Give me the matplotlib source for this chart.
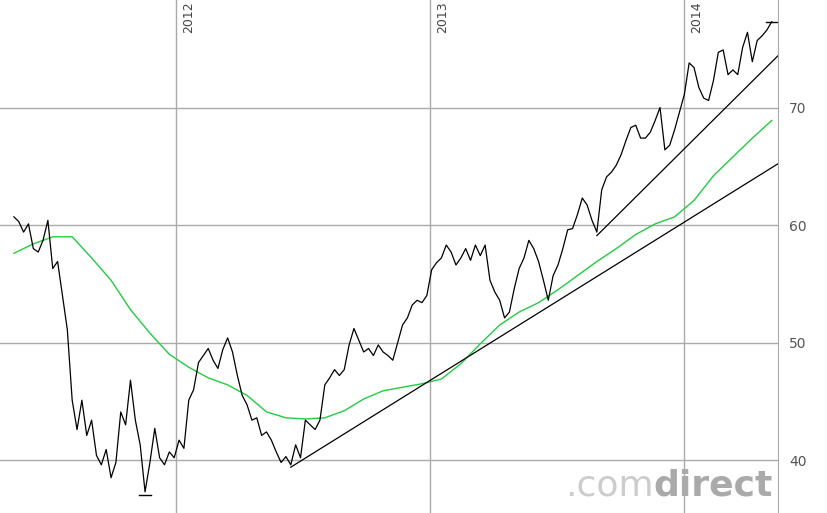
import matplotlib
matplotlib.use("Agg")
import matplotlib.pyplot as plt
import pandas as pd

price = [60.7,60.3,59.4,60.1,58.0,57.7,58.7,60.4,56.3,56.9,54.0,51.1,45.1,42.6,45.1,42.1,43.4,40.4,39.6,40.9,
         38.5,39.8,44.1,43.0,46.8,43.4,41.3,37.3,39.8,42.7,40.2,39.6,40.7,40.2,41.7,41.0,45.1,46.0,48.3,48.9,
         49.5,48.5,47.8,49.4,50.4,49.2,47.2,45.5,44.7,43.4,43.6,42.1,42.4,41.7,40.7,39.8,40.3,39.6,41.3,40.2,
         43.4,43.0,42.6,43.4,46.4,47.0,47.7,47.2,47.7,49.8,51.2,50.2,49.2,49.5,48.9,49.8,49.2,48.9,48.5,50.0,
         51.5,52.1,53.2,53.6,53.4,54.0,56.2,56.8,57.2,58.3,57.7,56.6,57.2,58.0,57.0,58.3,57.4,58.3,55.3,54.3,
         53.6,52.1,52.6,54.6,56.3,57.2,58.7,58.0,56.9,55.3,53.6,55.7,56.6,58.0,59.6,59.7,60.9,62.3,61.7,60.4,
         59.4,63.0,64.1,64.5,65.1,66.0,67.2,68.3,68.5,67.4,67.4,67.9,68.9,70.0,66.4,66.8,68.1,69.6,71.1,73.8,
         73.4,71.7,70.8,70.6,72.3,74.7,74.9,72.8,73.2,72.8,75.1,76.4,73.9,75.7,76.1,76.6,77.3]
ma = [57.6,58.4,59.0,59.0,57.2,55.3,52.8,50.8,49.0,47.9,47.0,46.4,45.5,44.1,43.6,43.5,43.6,44.2,45.2,45.9,
      46.2,46.5,46.9,48.2,49.9,51.5,52.6,53.4,54.5,55.7,56.9,58.0,59.2,60.1,60.7,62.1,64.2,65.8,67.4,68.9]
dates = pd.date_range("2011-05-12", periods=len(price), freq="7D")
ma_dates = dates[::4][:len(ma)]
trend1_dates = pd.to_datetime(["2012-06-14", "2014-05-22"])
trend1_vals = [39.4, 65.4]
trend2_dates = pd.to_datetime(["2013-08-29", "2014-05-22"])
trend2_vals = [59.1, 74.7]
low_date, low_val = dates[27], 37.0
high_date, high_val = dates[-1], 77.3
year_ticks = pd.to_datetime(["2012-01-01", "2013-01-01", "2014-01-01"])
y_ticks = [40, 50, 60, 70]

fig = plt.figure(figsize=(8.27, 5.13), dpi=100)
ax = fig.add_axes([0, 0, 778/827, 1])
ax.set_xlim(pd.Timestamp("2011-04-22"), pd.Timestamp("2014-05-17"))
ax.set_ylim(35.5, 79.15)
for yv in y_ticks:
    ax.axhline(yv, color="#aaaaaa", lw=1, zorder=0)
for d in year_ticks:
    ax.axvline(d, color="#aaaaaa", lw=1, zorder=0)
    ax.text(d + pd.Timedelta(days=9), 79.0, str(d.year), rotation=90, va="top", ha="left",
            fontsize=9, color="#444444")
ax.plot(ma_dates, ma, color="#22cc44", lw=1, zorder=2)
ax.plot(dates, price, color="black", lw=0.9, zorder=3)
ax.plot(trend1_dates, trend1_vals, color="black", lw=0.9)
ax.plot(trend2_dates, trend2_vals, color="black", lw=0.9)
w = pd.Timedelta(days=9)
ax.plot([low_date - w, low_date + w], [low_val, low_val], color="black", lw=1)
ax.plot([high_date - w, high_date + w], [high_val, high_val], color="black", lw=1)

ax.yaxis.tick_right()
ax.set_yticks(y_ticks)
ax.tick_params(axis="y", length=0, pad=8, labelsize=10, labelcolor="#555555")
ax.set_xticks([])
for s in ["left", "top", "bottom"]:
    ax.spines[s].set_visible(False)
ax.spines["right"].set_color("#aaaaaa")

fig.text(0.790, 0.035, ".com", fontsize=26, color="#cccccc", ha="right", va="baseline")
fig.text(0.790, 0.035, "direct", fontsize=26, color="#aaaaaa", ha="left", va="baseline",
         fontweight="bold")
fig.savefig("out.png", dpi=100)
